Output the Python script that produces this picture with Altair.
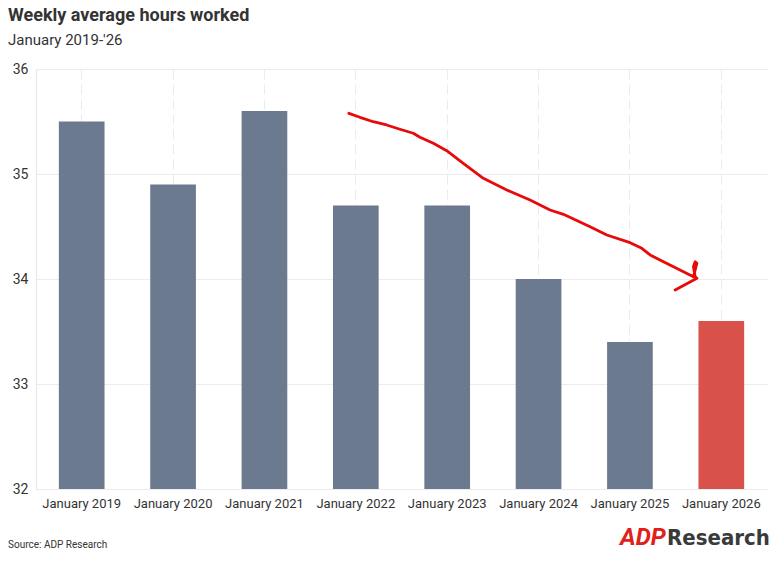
import altair as alt
import pandas as pd

# ---- data ----
years = ["January 2019", "January 2020", "January 2021", "January 2022",
         "January 2023", "January 2024", "January 2025", "January 2026"]
hours = [35.5, 34.9, 35.6, 34.7, 34.7, 34.0, 33.4, 33.6]
group = ["past", "past", "past", "past", "past", "past", "past", "latest"]
y_ticks = [32, 33, 34, 35, 36]

# hand-drawn red arrow, in data units (x = bar index, y = hours)
arrow_x = [2.924, 3.045, 3.191, 3.337, 3.483, 3.629, 3.702, 3.848, 3.995, 4.176,
           4.396, 4.652, 4.907, 5.126, 5.272, 5.564, 5.747, 6.002, 6.130, 6.221,
           6.367, 6.695, 6.733, 6.714, 6.695, 6.714, 6.733, 6.495]
arrow_y = [35.578, 35.540, 35.498, 35.467, 35.426, 35.388, 35.350, 35.292, 35.222, 35.102,
           34.959, 34.848, 34.752, 34.657, 34.616, 34.498, 34.419, 34.346, 34.292, 34.229,
           34.165, 34.022, 34.150, 34.165, 34.117, 34.022, 34.007, 33.895]

bars_df = pd.DataFrame({"year": years, "hours": hours, "group": group})
arrow_df = pd.DataFrame({"x": arrow_x, "y": arrow_y, "seq": list(range(len(arrow_x)))})

W, H = 731, 420
FONT = "Roboto"
yscale = alt.Scale(domain=[32, 36], zero=False, nice=False)

bars = alt.Chart(bars_df).mark_bar().encode(
    x=alt.X("year:N", sort=years,
            scale=alt.Scale(paddingInner=0.5, paddingOuter=0.25),
            axis=alt.Axis(title=None, labelAngle=0, ticks=False, domain=False,
                          grid=True, gridDash=[10, 5], gridColor="#ebebeb",
                          bandPosition=0.5, labelFontSize=13, labelColor="#333333",
                          labelPadding=8, labelFont=FONT)),
    y=alt.Y("hours:Q", scale=yscale,
            axis=alt.Axis(title=None, values=y_ticks, format="d", ticks=False, domain=True,
                          domainColor="#e6e6e6", gridColor="#ececec",
                          labelFontSize=14, labelColor="#333333", labelPadding=8,
                          labelFont=FONT)),
    y2=alt.datum(32),
    color=alt.Color("group:N",
                    scale=alt.Scale(domain=["past", "latest"], range=["#6c7a8f", "#d9514b"]),
                    legend=None),
)

arrow = alt.Chart(arrow_df).mark_line(
    color="#e60a0a", strokeWidth=2.8, strokeCap="round", strokeJoin="round"
).encode(
    x=alt.X("x:Q", scale=alt.Scale(domain=[-0.5, 7.5], nice=False, zero=False), axis=None),
    y=alt.Y("y:Q", scale=yscale, title=None),
    order=alt.Order("seq:Q"),
)

source = alt.Chart(alt.Data(values=[{"t": "Source: ADP Research"}])).mark_text(
    align="left", baseline="middle", fontSize=10, font=FONT, color="#333333"
).encode(x=alt.value(-28), y=alt.value(476), text="t:N")

logo_adp = alt.Chart(alt.Data(values=[{"t": "ADP"}])).mark_text(
    align="left", baseline="middle", fontSize=24, font=FONT, fontWeight="bold",
    fontStyle="italic", color="#e0201b"
).encode(x=alt.value(584), y=alt.value(469), text="t:N")

logo_res = alt.Chart(alt.Data(values=[{"t": "Research"}])).mark_text(
    align="left", baseline="middle", fontSize=22,
    font="DejaVu Sans Condensed, Roboto",
    fontWeight="bold", color="#3a3a3a"
).encode(x=alt.value(631), y=alt.value(469), text="t:N")

chart = alt.layer(bars, arrow, source, logo_adp, logo_res).resolve_scale(
    x="independent"
).properties(
    width=W, height=H,
    title=alt.TitleParams(
        "Weekly average hours worked", subtitle="January 2019-'26",
        anchor="start", frame="group", dx=-28, font=FONT, subtitleFont=FONT,
        fontSize=18, subtitleFontSize=15, fontWeight="bold",
        color="#333333", subtitleColor="#333333", offset=14, subtitlePadding=8,
    ),
    padding={"left": 28, "top": 61, "right": 6, "bottom": 66},
    autosize=alt.AutoSizeParams(type="none"),
).configure_view(stroke=None)

chart.save("out.html", embed_options={"renderer": "svg", "actions": False})
